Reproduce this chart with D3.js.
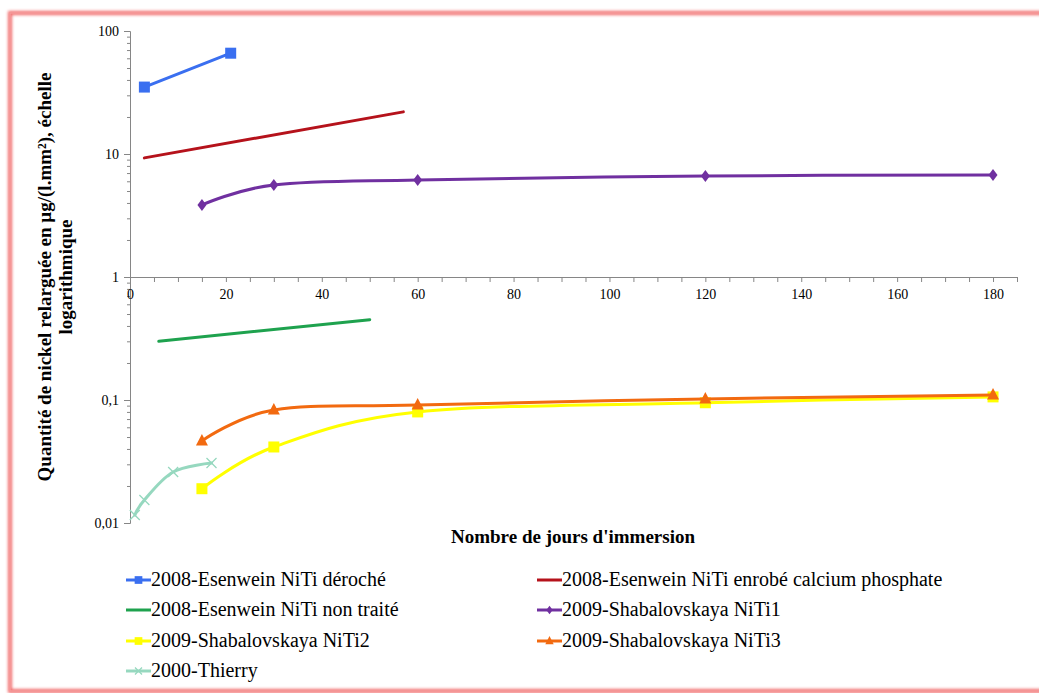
<!DOCTYPE html>
<html><head><meta charset="utf-8">
<script src="https://cdn.jsdelivr.net/npm/d3@7/dist/d3.min.js"></script>
<style>
body{margin:0;background:#fff;}
svg{display:block;}
svg text{font-family:"Liberation Serif","Times New Roman",serif;}
</style></head>
<body>
<svg id="chart" width="1039" height="693"></svg>
<script>
// ---- data ----
const seriesNames = [
  "2008-Esenwein NiTi déroché",
  "2008-Esenwein NiTi enrobé calcium phosphate",
  "2008-Esenwein NiTi non traité",
  "2009-Shabalovskaya NiTi1",
  "2009-Shabalovskaya NiTi2",
  "2009-Shabalovskaya NiTi3",
  "2000-Thierry"
];
const derocheX = [3, 21];
const derocheY = [35, 66];
const enrobeX = [3, 57];
const enrobeY = [9.3, 22];
const nonTraiteX = [6, 50];
const nonTraiteY = [0.30, 0.45];
const shabX = [15, 30, 60, 120, 180];
const niti1Y = [3.85, 5.6, 6.15, 6.63, 6.75];
const niti2Y = [0.019, 0.0415, 0.080, 0.095, 0.106];
const niti3Y = [0.0465, 0.083, 0.091, 0.102, 0.110];
const thierryX = [1, 3, 9, 17];
const thierryY = [0.0116, 0.0154, 0.026, 0.0307];
const yTickValues = [0.01, 0.1, 1, 10, 100];
const yTickLabels = ["0,01", "0,1", "1", "10", "100"];
const xTickValues = [0, 20, 40, 60, 80, 100, 120, 140, 160, 180];

// ---- styles ----
const colors = ["#3a6ff0", "#b5121b", "#1ea24e", "#7030a0", "#ffff00", "#f26a10", "#96d8bf"];
const markers = ["square", "none", "none", "diamond", "square", "triangle", "cross"];
const smooth = d3.curveCardinal.tension(0);
const curves = [d3.curveLinear, d3.curveLinear, d3.curveLinear, smooth, smooth, smooth, smooth];

const series = [
  {x: derocheX, y: derocheY},
  {x: enrobeX, y: enrobeY},
  {x: nonTraiteX, y: nonTraiteY},
  {x: shabX, y: niti1Y},
  {x: shabX, y: niti2Y},
  {x: shabX, y: niti3Y},
  {x: thierryX, y: thierryY}
].map((s, i) => ({name: seriesNames[i], color: colors[i], marker: markers[i], curve: curves[i],
  pts: s.x.map((xv, j) => [xv, s.y[j]])}));

const svg = d3.select("#chart");
const defs = svg.append("defs");
const f = defs.append("filter").attr("id", "glow").attr("x", "-5%").attr("y", "-5%").attr("width", "110%").attr("height", "110%");
f.append("feGaussianBlur").attr("stdDeviation", 1.6);

// frame
svg.append("rect").attr("x", 10).attr("y", 13).attr("width", 1045).attr("height", 678)
  .attr("fill", "none").attr("stroke", "#f26d6d").attr("stroke-width", 4).attr("filter", "url(#glow)");
svg.append("rect").attr("x", 10).attr("y", 13).attr("width", 1045).attr("height", 678)
  .attr("fill", "none").attr("stroke", "#f59a9a").attr("stroke-width", 1.5);

const x = d3.scaleLinear().domain([0, 185]).range([130, 1017]);
const y = d3.scaleLog().domain([0.01, 100]).range([523, 31]);

const axisColor = "#868686";

// y axis
const yMinor = [];
for (let d = 0.01; d < 100; d *= 10) for (let k = 2; k <= 9; k++) yMinor.push(+(d * k).toPrecision(3));
const yAxisG = svg.append("g").attr("transform", `translate(${x(0)},0)`);
yAxisG.call(d3.axisLeft(y).tickValues(yMinor).tickSize(3).tickFormat(""));
yAxisG.call(g => g.selectAll(".domain").remove());
yAxisG.append("g").call(d3.axisLeft(y).tickValues(yTickValues).tickSize(6)
  .tickFormat((d, i) => yTickLabels[i]).tickPadding(5));
yAxisG.selectAll("line,path").attr("stroke", axisColor);
yAxisG.selectAll("g").attr("font-family", null);
yAxisG.selectAll("text").attr("fill", "#000").attr("font-size", 14);

// x axis at y=1
const xAxisG = svg.append("g").attr("transform", `translate(0,${y(1)})`);
xAxisG.call(d3.axisBottom(x).tickValues(d3.range(0, 186, 5)).tickSize(5)
  .tickFormat(d => xTickValues.includes(d) ? d : "").tickPadding(7));
xAxisG.attr("font-family", null);
xAxisG.selectAll("line,path").attr("stroke", axisColor);
xAxisG.selectAll("text").attr("fill", "#000").attr("font-size", 14);

// lines
const line = c => d3.line().curve(c).x(d => x(d[0])).y(d => y(d[1]));
function drawMarker(g, type, color, cx, cy, scale) {
  if (type === "square") g.append("rect").attr("x", cx - 5.5 * scale).attr("y", cy - 5.5 * scale)
    .attr("width", 11 * scale).attr("height", 11 * scale).attr("fill", color);
  else if (type === "diamond") g.append("path").attr("d",
    `M${cx},${cy - 6 * scale}L${cx + 4.5 * scale},${cy}L${cx},${cy + 6 * scale}L${cx - 4.5 * scale},${cy}Z`).attr("fill", color);
  else if (type === "triangle") g.append("path").attr("d",
    `M${cx},${cy - 7 * scale}L${cx + 6 * scale},${cy + 4.5 * scale}L${cx - 6 * scale},${cy + 4.5 * scale}Z`).attr("fill", color);
  else if (type === "cross") g.append("path").attr("d",
    `M${cx - 5 * scale},${cy - 5 * scale}L${cx + 5 * scale},${cy + 5 * scale}M${cx + 5 * scale},${cy - 5 * scale}L${cx - 5 * scale},${cy + 5 * scale}`)
    .attr("stroke", color).attr("stroke-width", 1.3).attr("fill", "none");
}
const plot = svg.append("g");
series.forEach(s => {
  plot.append("path").attr("d", line(s.curve)(s.pts)).attr("fill", "none")
    .attr("stroke", s.color).attr("stroke-width", 3).attr("stroke-linecap", "round");
  if (s.marker !== "none") s.pts.forEach(p => drawMarker(plot, s.marker, s.color, x(p[0]), y(p[1]), 1));
});

// axis titles
svg.append("text").attr("x", 573).attr("y", 543).attr("text-anchor", "middle")
  .attr("font-weight", "bold").attr("font-size", 19)
  .text("Nombre de jours d'immersion");
const yt = svg.append("text").attr("transform", "translate(51,277) rotate(-90)").attr("text-anchor", "middle")
  .attr("font-weight", "bold").attr("font-size", 19);
yt.append("tspan").attr("x", 0).attr("y", 0).text("Quantité de nickel relarguée en µg/(l.mm²), échelle");
yt.append("tspan").attr("x", 0).attr("y", 21).text("logarithmique");

// legend
const legCols = [126, 537];
const legRows = [580, 610, 641, 671];
series.forEach((s, i) => {
  const lx = legCols[i % 2], ly = legRows[Math.floor(i / 2)];
  const g = svg.append("g");
  g.append("line").attr("x1", lx).attr("x2", lx + 25).attr("y1", ly).attr("y2", ly)
    .attr("stroke", s.color).attr("stroke-width", 3);
  if (s.marker !== "none") drawMarker(g, s.marker, s.color, lx + 12.5, ly, 0.7);
  g.append("text").attr("x", lx + 25).attr("y", ly + 6).attr("font-size", 20)
    .attr("fill", "#000").text(s.name);
});
</script>
</body></html>
